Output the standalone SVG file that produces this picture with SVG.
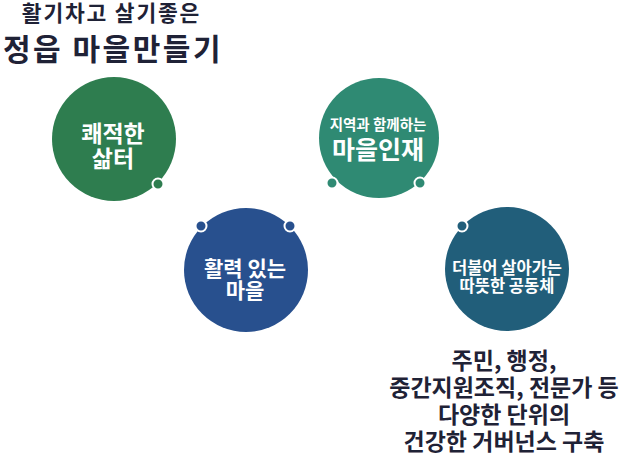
<svg xmlns="http://www.w3.org/2000/svg" width="624" height="457" viewBox="0 0 624 457">
<style>
text{font-family:"Noto Sans CJK KR","Noto Sans",sans-serif;font-weight:700;text-anchor:middle}
.t{fill:#1f2236}
.w{fill:#ffffff}
.dot{stroke:#ffffff;stroke-width:2}
</style>
<rect width="624" height="457" fill="#ffffff"/>
<g id="title">
<text class="t" x="111.5" y="21" font-size="21.5" letter-spacing="1.8">활기차고 살기좋은</text>
<text class="t" x="113" y="60" font-size="30" letter-spacing="2.5">정읍 마을만들기</text>
</g>
<g id="node-shelter">
<circle cx="114" cy="139" r="62" fill="#2e7d4f"/>
<text class="w" x="113" y="142" font-size="23">쾌적한</text>
<text class="w" x="113" y="167" font-size="23">삶터</text>
</g>
<g id="node-talent">
<circle cx="379" cy="138" r="60" fill="#2f8a73"/>
<text class="w" x="378" y="130" font-size="14.5">지역과 함께하는</text>
<text class="w" x="378" y="159" font-size="25">마을인재</text>
</g>
<g id="node-village">
<circle cx="246" cy="270" r="62" fill="#28508e"/>
<text class="w" x="245" y="276" font-size="21">활력 있는</text>
<text class="w" x="245" y="298" font-size="21">마을</text>
</g>
<g id="node-community">
<circle cx="507" cy="269" r="62" fill="#215e7a"/>
<text class="w" x="507" y="274" font-size="16.5">더불어 살아가는</text>
<text class="w" x="507" y="292" font-size="16.5">따뜻한 공동체</text>
</g>
<g id="connectors">
<circle class="dot" cx="158" cy="184" r="5.5" fill="#2e7d4f"/>
<circle class="dot" cx="332" cy="183" r="5.5" fill="#2f8a73"/>
<circle class="dot" cx="420" cy="183" r="5.5" fill="#2f8a73"/>
<circle class="dot" cx="201" cy="226" r="5.5" fill="#28508e"/>
<circle class="dot" cx="290" cy="226" r="5.5" fill="#28508e"/>
<circle class="dot" cx="462" cy="226" r="5.5" fill="#215e7a"/>
</g>
<g id="governance">
<text class="t" x="504" y="369" font-size="23">주민, 행정,</text>
<text class="t" x="504" y="396" font-size="23">중간지원조직, 전문가 등</text>
<text class="t" x="504" y="423" font-size="23">다양한 단위의</text>
<text class="t" x="504" y="450" font-size="23">건강한 거버넌스 구축</text>
</g>
</svg>
